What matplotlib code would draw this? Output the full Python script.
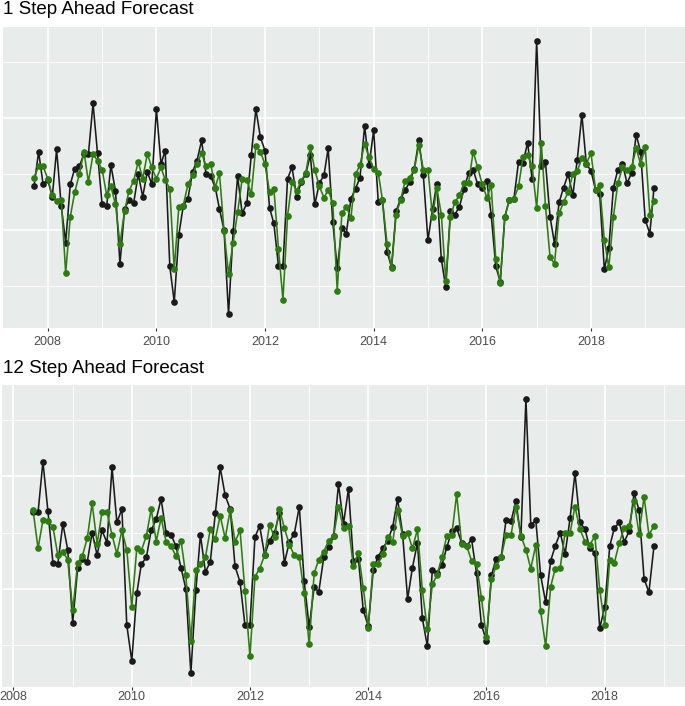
import numpy as np
import pandas as pd
import matplotlib
matplotlib.use("Agg")
import matplotlib.pyplot as plt
import matplotlib.dates as mdates

plt.rcParams['font.family'] = ['Liberation Sans', 'DejaVu Sans']

# ---------------- data (arbitrary units; y tick labels are not shown) ----------------
actual = [
    0.39, 0.70, 0.41, 0.45, 0.30, 0.72, 0.22, -0.11, 0.41, 0.55,
    0.57, 0.68, 0.68, 1.13, 0.69, 0.23, 0.22, 0.58, 0.35, -0.30,
    0.19, 0.27, 0.24, 0.50, 0.30, 0.52, 0.41, 1.08, 0.59, 0.71,
    -0.32, -0.64, -0.04, 0.22, 0.28, 0.52, 0.62, 0.80, 0.50, 0.48,
    0.38, 0.19, 0.00, -0.75, -0.01, 0.48, 0.15, 0.24, 0.67, 1.08,
    0.83, 0.71, 0.20, 0.06, -0.32, -0.32, 0.46, 0.56, 0.30, 0.43,
    0.50, 0.67, 0.23, 0.42, 0.49, 0.73, 0.07, -0.34, 0.02, -0.03,
    0.28, 0.37, 0.47, 0.93, 0.58, 0.89, 0.25, 0.27, -0.19, -0.33,
    0.17, 0.28, 0.36, 0.43, 0.55, 0.80, 0.49, -0.09, 0.19, 0.41,
    -0.26, -0.51, 0.17, 0.14, 0.21, 0.37, 0.51, 0.54, 0.41, 0.38,
    0.44, 0.14, -0.32, -0.46, 0.12, 0.27, 0.28, 0.61, 0.60, 0.78,
    0.46, 1.69, 0.57, 0.61, 0.12, -0.12, 0.25, 0.38, 0.50, 0.31,
    0.63, 1.03, 0.59, 0.53, 0.36, 0.32, -0.35, -0.16, 0.38, 0.54,
    0.59, 0.42, 0.51, 0.85, 0.70, 0.09, -0.03, 0.38,
]

forecast_1 = [
    0.47, 0.57, 0.57, 0.46, 0.31, 0.26, 0.27, -0.38, 0.12, 0.34,
    0.50, 0.70, 0.43, 0.68, 0.62, 0.54, 0.31, 0.39, 0.23, -0.12,
    0.17, 0.35, 0.44, 0.61, 0.46, 0.68, 0.56, 0.46, 0.56, 0.45,
    0.37, -0.35, 0.21, 0.22, 0.41, 0.49, 0.59, 0.69, 0.57, 0.59,
    0.38, 0.51, -0.01, -0.39, -0.11, 0.16, 0.46, 0.45, 0.32, 0.75,
    0.70, 0.59, 0.34, 0.37, -0.17, -0.62, 0.13, 0.43, 0.35, 0.44,
    0.51, 0.74, 0.54, 0.39, 0.29, 0.36, 0.24, -0.54, 0.15, 0.21,
    0.11, 0.50, 0.58, 0.77, 0.65, 0.55, 0.51, 0.27, -0.12, -0.34,
    0.14, 0.27, 0.44, 0.47, 0.54, 0.76, 0.54, 0.54, 0.12, 0.38,
    0.14, -0.45, 0.12, 0.25, 0.31, 0.42, 0.42, 0.70, 0.56, 0.41,
    0.29, 0.40, -0.26, -0.47, 0.12, 0.27, 0.28, 0.39, 0.65, 0.67,
    0.57, 0.20, 0.78, 0.22, -0.24, -0.30, 0.15, 0.25, 0.34, 0.50,
    0.53, 0.64, 0.59, 0.69, 0.36, 0.40, -0.09, -0.33, 0.12, 0.42,
    0.56, 0.54, 0.56, 0.73, 0.59, 0.74, 0.14, 0.26,
]

forecast_12 = [
    0.70, 0.36, 0.61, 0.60, 0.55, 0.30, 0.33, 0.26, -0.19, 0.23,
    0.29, 0.45, 0.76, 0.40, 0.68, 0.68, 0.48, 0.31, 0.52, 0.35,
    -0.16, 0.36, 0.34, 0.47, 0.71, 0.42, 0.63, 0.42, 0.38, 0.29,
    0.43, 0.12, -0.46, 0.17, 0.22, 0.28, 0.53, 0.44, 0.65, 0.45,
    0.70, 0.42, 0.52, -0.02, -0.60, 0.11, 0.18, 0.30, 0.57, 0.46,
    0.71, 0.54, 0.39, 0.30, 0.28, -0.04, -0.49, 0.14, 0.26, 0.33,
    0.43, 0.47, 0.73, 0.54, 0.56, 0.20, 0.32, 0.01, -0.35, 0.22,
    0.22, 0.31, 0.46, 0.42, 0.70, 0.47, 0.50, 0.36, 0.53, -0.01,
    -0.36, 0.04, 0.12, 0.28, 0.47, 0.48, 0.84, 0.40, 0.38, 0.25,
    0.22, -0.08, -0.43, 0.09, 0.20, 0.28, 0.48, 0.48, 0.73, 0.47,
    0.35, 0.18, 0.39, -0.20, -0.51, 0.02, 0.18, 0.19, 0.50, 0.50,
    0.73, 0.53, 0.42, 0.39, 0.47, -0.01, -0.32, 0.26, 0.23, 0.41,
    0.54, 0.56, 0.78, 0.49, 0.82, 0.48, 0.56,
]

start_1 = "2007-10-01"
start_12 = "2008-05-01"
offset_12 = len(actual) - len(forecast_12)   # actual series used in 12-step panel
titles = ["1 Step Ahead Forecast", "12 Step Ahead Forecast"]
tick_years = list(range(2008, 2019, 2))
minor_years = list(range(2007, 2020, 2))

# ---------------- style ----------------
W, H = 685, 706
BG = "#E8ECEA"
BLACK = "#1A1A1A"
GREEN = "#2E7B12"

fig = plt.figure(figsize=(W / 100, H / 100), dpi=100)


def px_axes(x0, y0, x1, y1):
    return fig.add_axes([x0 / W, 1 - y1 / H, (x1 - x0) / W, (y1 - y0) / H])


panels = [
    dict(rect=(3, 27, 685, 328), start=start_1, act=actual, fc=forecast_1,
         title_y=14.5, pad=3.5),
    dict(rect=(2, 385, 685, 687), start=start_12, act=actual[offset_12:], fc=forecast_12,
         title_y=373.0, pad=0.8),
]

all_vals = actual + forecast_1 + forecast_12
lo, hi = min(all_vals), max(all_vals)
pad = 0.05 * (hi - lo)

for p, title in zip(panels, titles):
    ax = px_axes(*p["rect"])
    dates = pd.date_range(p["start"], periods=len(p["fc"]), freq="MS")
    ax.set_facecolor(BG)
    for s in ax.spines.values():
        s.set_visible(False)

    ax.plot(dates, p["act"], color=BLACK, lw=1.15, marker="o", ms=4.8,
            markeredgewidth=0, zorder=3)
    ax.plot(dates, p["fc"], color=GREEN, lw=1.15, marker="o", ms=4.8,
            markeredgewidth=0, zorder=4)

    ax.set_xticks([pd.Timestamp(f"{y}-01-01") for y in tick_years])
    ax.set_xticklabels([str(y) for y in tick_years])
    ax.set_xticks([pd.Timestamp(f"{y}-01-01") for y in minor_years], minor=True)
    ax.set_yticks([0, 1])
    ax.set_yticks([-0.5, 0.5, 1.5], minor=True)
    ax.set_yticklabels([])

    # ggplot-style 5% expansion of the data range
    d0, d1 = mdates.date2num(dates[0]), mdates.date2num(dates[-1])
    dx = 0.05 * (d1 - d0)
    ax.set_xlim(d0 - dx, d1 + dx)
    ax.set_ylim(lo - pad, hi + pad)

    ax.grid(which="major", color="white", lw=1.2, zorder=0)
    ax.grid(which="minor", color="white", lw=0.6, zorder=0)
    ax.set_axisbelow(True)

    ax.tick_params(axis="x", which="major", length=2.2, width=0.8, color="#333333",
                   labelsize=9, labelcolor="#4D4D4D", pad=p["pad"])
    ax.tick_params(axis="x", which="minor", length=0)
    ax.tick_params(axis="y", which="both", length=0)

    fig.text(3 / W, 1 - p["title_y"] / H, title, fontsize=13.5, color="black",
             ha="left", va="baseline")

fig.savefig("out.png", dpi=100)
